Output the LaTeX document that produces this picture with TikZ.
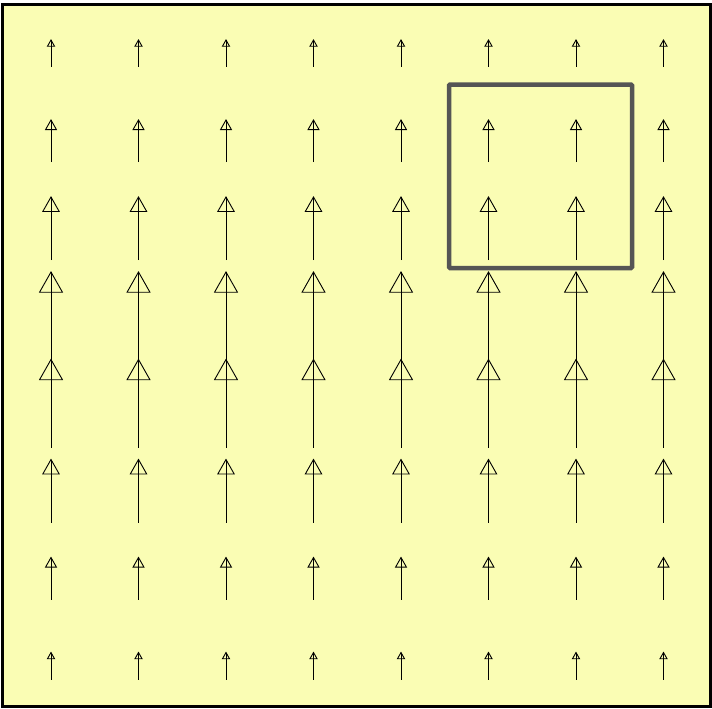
\documentclass[tikz,border=0pt]{standalone}
\definecolor{bg}{RGB}{250,253,180}
\definecolor{boxgray}{RGB}{85,85,85}
\begin{document}
\begin{tikzpicture}[x=1pt,y=-1pt,
  vec/.style={line width=0.9pt, line join=miter},
  frame/.style={line width=3pt, fill=bg},
  selbox/.style={draw=boxgray, line width=4.5pt, rounded corners=1pt}]
\useasboundingbox (0,0) rectangle (712,709);
\draw[frame] (2.5,4.5) rectangle (710,706);
\foreach \L [count=\r from 0] in {27,42,63,88,88,63,42,27} {
  \foreach \c in {0,...,7} {
    \pgfmathsetmacro{\x}{51+87.5*\c}
    \pgfmathsetmacro{\y}{53.5+87.5*\r}
    \draw[vec] (\x,\y+\L/2) -- (\x,\y-\L/2);
    \draw[vec] (\x,\y-\L/2) -- (\x-0.13*\L,\y-\L/2+0.23*\L) -- (\x+0.13*\L,\y-\L/2+0.23*\L) -- cycle;
  }
}
\draw[selbox] (449,84.5) rectangle (632,268);
\end{tikzpicture}
\end{document}
